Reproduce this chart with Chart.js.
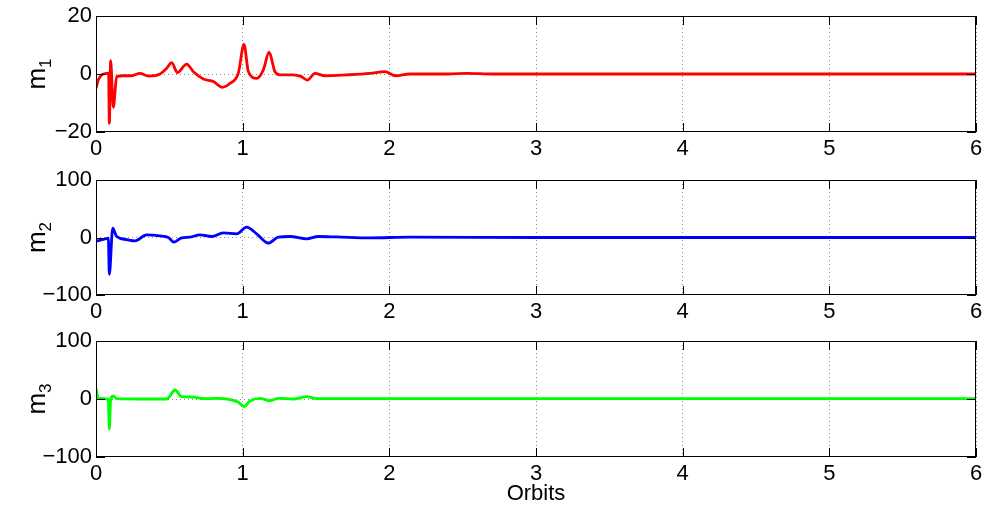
<!DOCTYPE html>
<html>
<head>
<meta charset="utf-8">
<script src="https://cdn.jsdelivr.net/npm/chart.js@4/dist/chart.umd.min.js"></script>
<style>
  html, body { margin: 0; padding: 0; background: #fff; }
  #wrap { position: relative; width: 983px; height: 509px; }
  #wrap canvas { position: absolute; left: 0; }
</style>
</head>
<body>
<div id="wrap">
  <canvas id="c1" width="983" height="165" style="top:0"></canvas>
  <canvas id="c2" width="983" height="160" style="top:165px"></canvas>
  <canvas id="c3" width="983" height="184" style="top:325px"></canvas>
</div>
<script>
  'use strict';

  // ── data (x in orbits) ──
  const xTicks = [0, 1, 2, 3, 4, 5, 6];

  const t1 = [0, 0.016, 0.039, 0.073, 0.086, 0.091, 0.100, 0.118, 0.141, 0.186, 0.243, 0.30, 0.357,
    0.436, 0.482, 0.516, 0.555, 0.618, 0.664, 0.732, 0.80, 0.861, 0.914, 0.970, 1.009, 1.039, 1.096,
    1.141, 1.18, 1.22, 1.255, 1.345, 1.40, 1.441, 1.493, 1.561, 1.709, 1.868, 1.97, 2.043, 2.14, 2.4,
    2.53, 2.7, 3, 4, 5, 6];
  const m1 = [-5, -2, -0.3, 0.2, 0.3, -17, 4.6, -11.5, -0.9, -0.6, -0.6, 0.2, -0.7,
    0, 2, 3.9, 0.5, 3.4, 0.8, -1.7, -2.6, -4.6, -3.2, 0.2, 10.2, 0.8, -1.5,
    1.4, 7.5, 0.8, -0.3, -0.3, -0.9, -2.1, 0.2, -0.6, -0.3, 0.2, 0.8, -0.6, 0, 0,
    0.2, 0, 0, 0, 0, 0];

  const t2 = [0, 0.05, 0.084, 0.091, 0.114, 0.141, 0.209, 0.266, 0.345, 0.436, 0.493, 0.532, 0.584,
    0.641, 0.709, 0.789, 0.868, 0.959, 1.027, 1.095, 1.175, 1.243, 1.323, 1.436, 1.516, 1.641, 1.868,
    2.14, 3, 4, 5, 6];
  const m2 = [-6.4, -3.5, -1.2, -64, 16.2, 1.7, -3.5, -5.8, 4.6, 2.9, 0, -8.1, -0.6,
    0.6, 4.6, 1.7, 8.1, 6.4, 18, 6.4, -9.8, 0.6, 1.7, -2.3, 1.7, 1, -0.6,
    0.6, 0, 0, 0, 0];

  const t3 = [0, 0.016, 0.084, 0.091, 0.100, 0.118, 0.141, 0.30, 0.482, 0.539, 0.584, 0.664, 0.732,
    0.823, 0.914, 0.97, 1.009, 1.05, 1.118, 1.186, 1.243, 1.345, 1.436, 1.505, 2, 3, 4, 5, 6];
  const m3 = [18.4, 1.1, -0.6, -51.7, -1, 5.2, 0.6, 0, 0, 15.5, 4, 3.4, 0.6,
    1, -1.1, -5.7, -13.2, -3.4, 1, -2.9, 1, 0, 4, 0.6, 0.5, 0.5, 0.5, 0.5, 0.5];

  const FONT = 'Liberation Sans, Arial, Helvetica, sans-serif';
  const TICK_SIZE = 22;

  // MATLAB-ish box, inward ticks and the "m_k" label
  const matlabFrame = {
    id: 'matlabFrame',
    afterDraw(chart, args, opts) {
      const { ctx, chartArea: a, scales } = chart;
      const x = scales.x, y = scales.y;
      ctx.save();
      ctx.strokeStyle = '#000';
      ctx.lineWidth = 1;
      ctx.strokeRect(a.left + 0.5, a.top + 0.5, a.right - a.left - 1, a.bottom - a.top - 1);

      const len = 9;
      ctx.beginPath();
      x.ticks.forEach(t => {
        const px = Math.round(x.getPixelForValue(t.value)) + 0.5;
        ctx.moveTo(px, a.bottom); ctx.lineTo(px, a.bottom - len);
        ctx.moveTo(px, a.top); ctx.lineTo(px, a.top + len);
      });
      y.ticks.forEach(t => {
        const py = Math.round(y.getPixelForValue(t.value)) + 0.5;
        ctx.moveTo(a.left, py); ctx.lineTo(a.left + len, py);
        ctx.moveTo(a.right, py); ctx.lineTo(a.right - len, py);
      });
      ctx.stroke();

      // rotated y label with subscript
      const cy = (a.top + a.bottom) / 2;
      ctx.translate(opts.labelX, cy);
      ctx.rotate(-Math.PI / 2);
      ctx.fillStyle = '#000';
      ctx.textBaseline = 'alphabetic';
      ctx.textAlign = 'left';
      ctx.font = '26px ' + FONT;
      const wm = ctx.measureText('m').width;
      ctx.font = '17px ' + FONT;
      const ws = ctx.measureText(opts.sub).width;
      const start = -(wm + ws) / 2;
      ctx.font = '26px ' + FONT;
      ctx.fillText('m', start, 0);
      ctx.font = '17px ' + FONT;
      ctx.fillText(opts.sub, start + wm, 6);
      ctx.restore();
    }
  };

  function minusFmt(v) {
    return v < 0 ? '\u2212' + Math.abs(v) : String(v);
  }

  function makeChart(id, xs, ys, color, yMax, sub, opt) {
    const pts = xs.map((v, i) => ({ x: v, y: ys[i] }));
    return new Chart(document.getElementById(id), {
      type: 'line',
      data: {
        datasets: [{
          data: pts,
          borderColor: color,
          borderWidth: 2.8,
          pointRadius: 0,
          cubicInterpolationMode: 'monotone',
          fill: false
        }]
      },
      options: {
        responsive: false,
        animation: false,
        devicePixelRatio: 1,
        layout: { padding: { top: opt.top, right: 7, left: 0, bottom: 0 } },
        plugins: {
          legend: { display: false },
          tooltip: { enabled: false },
          matlabFrame: { sub, labelX: 45 }
        },
        scales: {
          x: {
            type: 'linear',
            min: 0, max: 6,
            afterBuildTicks: s => { s.ticks = xTicks.map(v => ({ value: v })); },
            afterFit: s => { s.height = opt.xh; s.paddingLeft = 0; s.paddingRight = 0; },
            border: { display: false, dash: [1, 3] },
            grid: { color: '#8c8c8c', lineWidth: 1, drawTicks: false },
            ticks: { color: '#000', font: { family: FONT, size: TICK_SIZE }, padding: 4, maxRotation: 0 },
            title: opt.title
              ? { display: true, text: 'Orbits', color: '#000', font: { family: FONT, size: 22 }, padding: { top: 0, bottom: 2 } }
              : { display: false }
          },
          y: {
            min: -yMax, max: yMax,
            afterBuildTicks: s => { s.ticks = [-yMax, 0, yMax].map(v => ({ value: v })); },
            afterFit: s => { s.width = 96; s.paddingTop = 0; s.paddingBottom = 0; },
            border: { display: false, dash: [1, 3] },
            grid: { color: c => c.tick && c.tick.value === 0 ? '#8c8c8c' : 'rgba(0,0,0,0)', drawTicks: false },
            ticks: { color: '#000', font: { family: FONT, size: TICK_SIZE }, padding: 4, callback: minusFmt }
          }
        }
      },
      plugins: [matlabFrame]
    });
  }

  makeChart('c1', t1, m1, '#ff0000', 20, '1', { top: 16, xh: 33 });
  makeChart('c2', t2, m2, '#0000ff', 100, '2', { top: 15, xh: 30 });
  makeChart('c3', t3, m3, '#00ff00', 100, '3', { top: 16, xh: 52, title: true });
</script>
</body>
</html>
